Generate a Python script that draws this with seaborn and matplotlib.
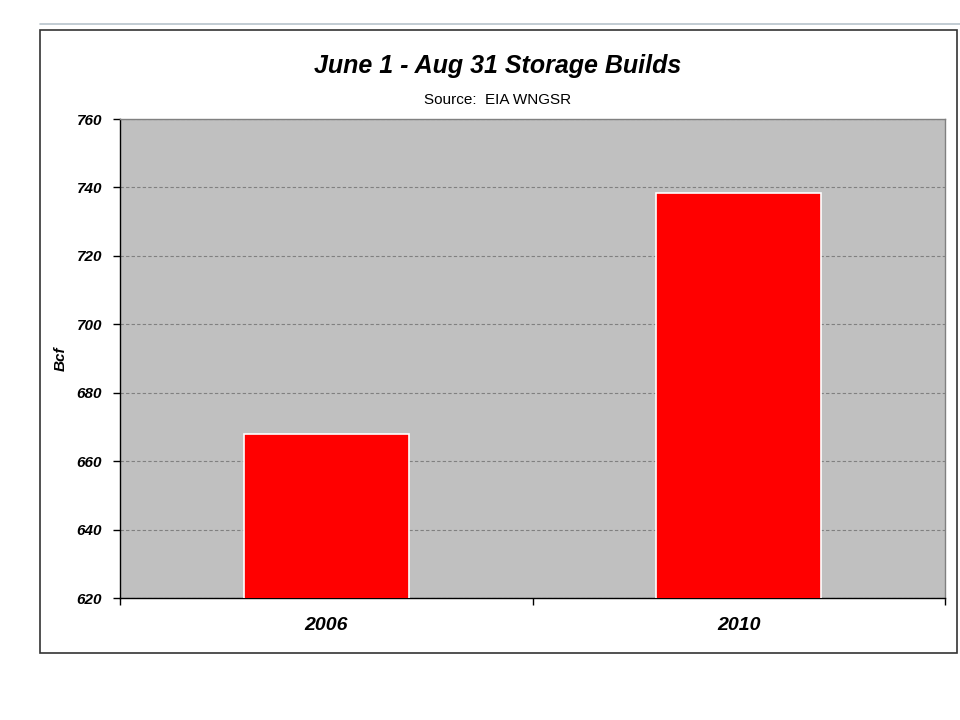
import matplotlib
matplotlib.use("Agg")
import matplotlib.pyplot as plt
import seaborn as sns
import pandas as pd
from matplotlib.patches import Rectangle
from matplotlib.lines import Line2D

years = ["2006", "2010"]
builds = [668, 738.5]
y_ticks = [620, 640, 660, 680, 700, 720, 740, 760]

sns.set_style("white")
plt.rcParams["font.family"] = ["Liberation Sans", "DejaVu Sans"]
plt.rcParams["text.color"] = "black"
plt.rcParams["axes.labelcolor"] = "black"
plt.rcParams["xtick.color"] = "black"
plt.rcParams["ytick.color"] = "black"
plt.rcParams["xtick.bottom"] = True
plt.rcParams["ytick.left"] = True

df = pd.DataFrame({"year": years, "bcf": builds})

fig = plt.figure(figsize=(9.6, 7.2), dpi=100)
ax = fig.add_axes([0.125, 0.1694, 0.8595, 0.6653])
ax.set_facecolor("#C0C0C0")

sns.barplot(data=df, x="year", y="bcf", color="#FF0000", saturation=1,
            edgecolor="white", linewidth=1.2, width=0.4, ax=ax, zorder=3)

ax.set_ylim(620, 760)
ax.set_xlim(-0.5, 1.5)
ax.set_yticks(y_ticks)
ax.set_yticklabels([str(t) for t in y_ticks], fontsize=11, fontweight="bold", fontstyle="italic")
ax.set_xticks([0, 1])
ax.set_xticklabels(years, fontsize=14, fontweight="bold", fontstyle="italic")
ax.set_xticks([-0.5, 0.5, 1.5], minor=True)
ax.tick_params(axis="x", which="major", length=0, pad=14)
ax.tick_params(axis="x", which="minor", bottom=True, length=5, width=1, direction="out", color="black")
ax.tick_params(axis="y", length=5, width=1, direction="out", color="black", left=True, pad=8)

ax.grid(axis="y", linestyle=(0, (3, 2)), color="#808080", linewidth=0.8, zorder=1)
ax.set_axisbelow(True)

for side in ["top", "right"]:
    ax.spines[side].set_color("#808080")
    ax.spines[side].set_linewidth(1)
ax.spines["left"].set_color("black")
ax.spines["bottom"].set_color("black")
ax.spines["left"].set_linewidth(1)
ax.spines["bottom"].set_linewidth(1)

ax.set_xlabel("")
ax.set_ylabel("Bcf", fontsize=11, fontweight="bold", fontstyle="italic", labelpad=6)

fig.text(0.518, 0.909, "June 1 - Aug 31 Storage Builds", ha="center", va="center",
         fontsize=18, fontweight="bold", fontstyle="italic")
fig.text(0.518, 0.861, "Source:  EIA WNGSR", ha="center", va="center", fontsize=11)

# outer border and top rule
fig.patches.append(Rectangle((40 / 960, 1 - 653 / 720), 917 / 960, 623 / 720,
                             transform=fig.transFigure, fill=False,
                             edgecolor="#333333", linewidth=1.2))
fig.lines.append(Line2D([40 / 960, 1.0], [1 - 24 / 720, 1 - 24 / 720],
                        transform=fig.transFigure, color="#B8C4CC", linewidth=1.2))

fig.savefig("out.png", dpi=100, facecolor="white")
